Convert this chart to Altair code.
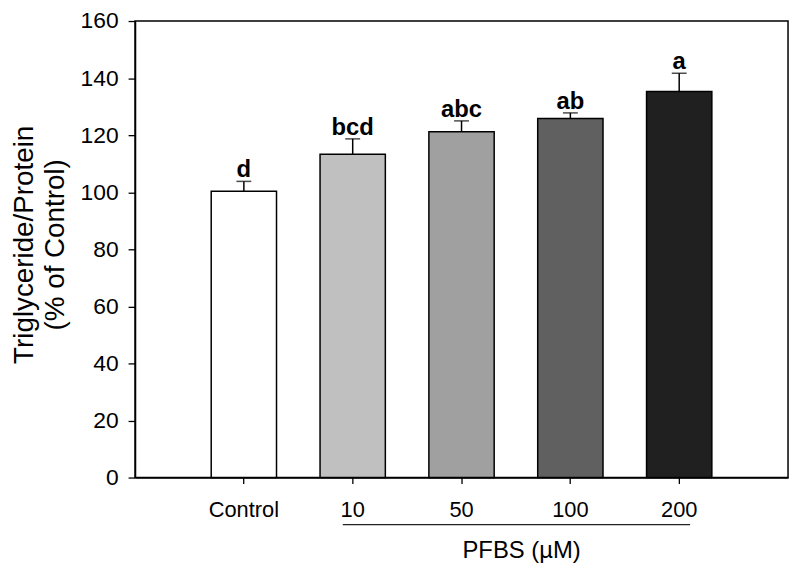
import altair as alt
import pandas as pd

groups = ["Control", "10", "50", "100", "200"]
means = [100.3, 113.3, 121.2, 125.8, 135.3]
uppers = [103.8, 118.7, 125.0, 127.8, 141.7]
letters = ["d", "bcd", "abc", "ab", "a"]
colors = ["#ffffff", "#c0c0c0", "#a0a0a0", "#606060", "#202020"]
y_ticks = [0, 20, 40, 60, 80, 100, 120, 140, 160]
x_title = "PFBS (µM)"
y_title = ["Triglyceride/Protein", "(% of Control)"]
bracket_start = "10"
bracket_end = "200"

df = pd.DataFrame({"group": groups, "mean": means, "upper": uppers, "letter": letters})
bracket = pd.DataFrame({"start": [bracket_start], "end": [bracket_end]})

FONT = "Liberation Sans"
W, H = 658, 460

xscale = alt.Scale(domain=groups, paddingInner=0.4, paddingOuter=0.7)
yscale = alt.Scale(domain=[0, 160], nice=False)

x_axis = alt.Axis(
    title=x_title, titleFontSize=24, titleFontWeight="normal", titleFont=FONT,
    titleColor="black", titleX=389, titleY=74, titleBaseline="middle", titleAlign="center",
    labelFontSize=22, labelFont=FONT, labelColor="black", labelAngle=0, labelPadding=16,
    tickSize=6, tickColor="black", tickWidth=1.3, domainColor="black", domainWidth=1.5,
    grid=False,
)
y_axis = alt.Axis(
    title=y_title, titleFontSize=28, titleFontWeight="normal", titleFont=FONT,
    titleColor="black", titleX=-103, titleY=225, titleAlign="center",
    titleBaseline="alphabetic", titleLineHeight=31, titleAngle=270,
    values=y_ticks, labelFontSize=23, labelFont=FONT, labelColor="black", labelPadding=10,
    tickSize=7, tickColor="black", tickWidth=1.3, domainColor="black", domainWidth=1.5,
    grid=False,
)

base = alt.Chart(df)

bars = base.mark_bar(stroke="black", strokeWidth=1.5).encode(
    x=alt.X("group:N", scale=xscale, axis=x_axis),
    y=alt.Y("mean:Q", scale=yscale, axis=y_axis),
    color=alt.Color("group:N", scale=alt.Scale(domain=groups, range=colors), legend=None),
)

err = base.mark_rule(color="black", strokeWidth=1.5).encode(
    x=alt.X("group:N", scale=xscale),
    y=alt.Y("mean:Q", scale=yscale),
    y2="upper:Q",
)

cap = base.mark_tick(color="black", orient="horizontal", size=15, thickness=1.5).encode(
    x=alt.X("group:N", scale=xscale),
    y=alt.Y("upper:Q", scale=yscale),
)

txt = base.mark_text(font=FONT, fontSize=24, fontWeight="bold", color="black",
                     baseline="alphabetic", dy=-4).encode(
    x=alt.X("group:N", scale=xscale),
    y=alt.Y("upper:Q", scale=yscale),
    text="letter:N",
)

line = alt.Chart(bracket).mark_rule(color="#222222", strokeWidth=1.2, clip=False,
                                    xOffset=-10, x2Offset=11).encode(
    x=alt.X("start:N", scale=xscale),
    x2="end:N",
    y=alt.value(507.5),
)

chart = alt.layer(bars, err, cap, txt, line).properties(
    width=W, height=H,
    autosize=alt.AutoSizeParams(type="none"),
    padding={"left": 128, "top": 11, "right": 4, "bottom": 86},
    background="white",
).configure_view(stroke="black", strokeWidth=1.5)

chart.save("out.html", embed_options={"renderer": "svg", "actions": False})
